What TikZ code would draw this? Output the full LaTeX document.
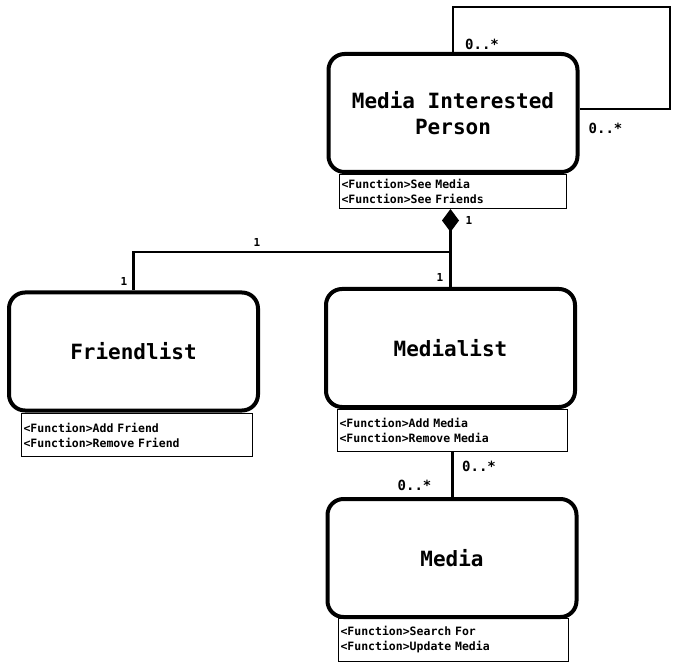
\documentclass[tikz,border=0pt]{standalone}
\usepackage{fontspec}
\setmonofont{DejaVu Sans Mono}
\usetikzlibrary{arrows.meta}
\tikzset{
  every picture/.style={font={\ttfamily\bfseries}, >=stealth},
  every label/.style={black}}

\begin{document}
\begin{tikzpicture}[x=1pt, y=-1pt]
    \tikzstyle{classbox}=[draw, line width=4pt, rounded corners=16pt, minimum width=249pt,
      minimum height=118pt, align=center, font={\ttfamily\bfseries\fontsize{21}{26}\selectfont}]
    \tikzstyle{funcbox}=[draw, line width=1pt, anchor=north west, align=left, inner sep=2pt,
      font={\ttfamily\bfseries\fontsize{11.5}{15}\selectfont}]
    \tikzstyle{mult}=[inner sep=0pt, font={\ttfamily\bfseries\fontsize{14}{14}\selectfont}]
    \tikzstyle{one}=[inner sep=0pt, font={\ttfamily\bfseries\fontsize{11}{11}\selectfont}]
    \tikzstyle{assoc}=[draw, line width=2.7pt]

    \useasboundingbox (0, 0) rectangle (680, 668);

    \begin{scope}
      \node[funcbox, text width=223pt, minimum height=34pt] (Pf) at (339, 174)
        {<Function>See Media\\<Function>See Friends};
      \node[funcbox, text width=227pt, minimum height=43pt] (Ff) at (21, 413)
        {<Function>Add Friend\\<Function>Remove Friend};
      \node[funcbox, text width=226pt, minimum height=42pt] (Lf) at (337, 409)
        {<Function>Add Media\\<Function>Remove Media};
      \node[funcbox, text width=226pt, minimum height=43pt] (Mf) at (338, 618)
        {<Function>Search For\\<Function>Update Media};
    \end{scope}

    \begin{scope}
      \node[classbox] (P) at (453, 113)   {Media Interested\\Person};
      \node[classbox] (F) at (133.5, 351.5) {Friendlist};
      \node[classbox] (L) at (450.5, 348) {Medialist};
      \node[classbox] (M) at (452, 558)   {Media};
    \end{scope}

    \coordinate (loop) at (670, 7);
    \coordinate (J) at (450.5, 252);

    \begin{scope}
      \draw[assoc] (P.north) |- (loop) |- ([yshift=4pt]P.east);
      \draw[assoc, {Diamond[length=23pt, width=17pt]}-] (Pf.south -| L.north) to (L.north);
      \draw[assoc] (J) -| (F.north);
      \draw[assoc] (Lf.south) to (Lf.south |- M.north);
    \end{scope}

    \node[mult] (m1) at (482, 44)    {0..*};
    \node[mult] (m2) at (605.5, 128) {0..*};
    \node[mult] (m3) at (479, 466)   {0..*};
    \node[mult] (m4) at (414.5, 485) {0..*};

    \node[one] (o1) at (469, 220) {1};
    \node[one] (o2) at (257, 242) {1};
    \node[one] (o3) at (124, 281) {1};
    \node[one] (o4) at (440, 277) {1};
\end{tikzpicture}
\end{document}
